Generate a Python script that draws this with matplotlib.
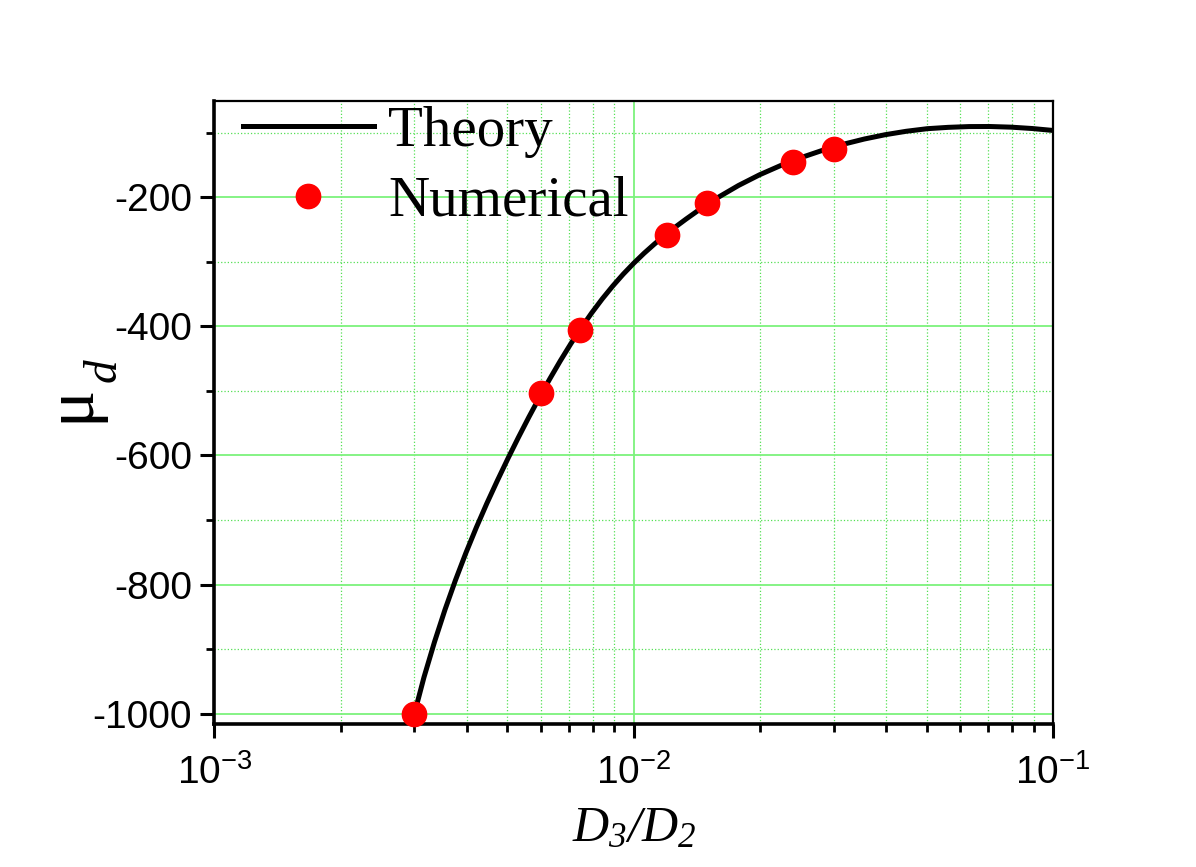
import matplotlib
matplotlib.use('Agg')
import matplotlib.pyplot as plt
from matplotlib.ticker import MultipleLocator, LogLocator, NullFormatter

# theory curve
theory_x = [3.0e-3, 3.162e-3, 3.350e-3, 3.548e-3, 3.758e-3, 3.981e-3, 4.217e-3,
            4.467e-3, 4.732e-3, 5.012e-3, 5.309e-3, 5.623e-3, 5.957e-3, 6.310e-3,
            6.683e-3, 7.079e-3, 7.499e-3, 7.943e-3, 8.414e-3, 8.913e-3, 9.441e-3,
            1.0e-2, 1.059e-2, 1.122e-2, 1.189e-2, 1.259e-2, 1.334e-2, 1.413e-2,
            1.496e-2, 1.585e-2, 1.778e-2, 1.995e-2, 2.239e-2, 2.512e-2, 2.818e-2,
            3.162e-2, 3.548e-2, 3.981e-2, 4.467e-2, 5.012e-2, 5.623e-2, 6.310e-2,
            7.079e-2, 7.943e-2, 8.913e-2, 1.0e-1]
theory_y = [-1000, -943.6, -888.9, -839.1, -793.4, -750.9, -711.3,
            -674.1, -638.9, -605.0, -572.3, -540.8, -510.5, -481.4,
            -453.6, -427.2, -402.4, -379.2, -357.6, -337.7, -319.3,
            -302.4, -286.8, -272.3, -258.7, -245.9, -233.8, -222.3,
            -211.3, -200.8, -181.9, -165.4, -151.1, -138.5, -127.5,
            -118.0, -109.9, -103.2, -97.9, -93.9, -91.8, -90.6,
            -90.5, -91.5, -93.6, -96.6]

# numerical points
num_x = [3.0e-3, 6.0e-3, 7.45e-3, 1.2e-2, 1.5e-2, 2.4e-2, 3.0e-2]
num_y = [-1000, -504, -405, -258, -209, -145, -125]

xticks = [1e-3, 1e-2, 1e-1]
xtick_labels = [r'$\mathsf{10^{-3}}$', r'$\mathsf{10^{-2}}$', r'$\mathsf{10^{-1}}$']
yticks = [-1000, -800, -600, -400, -200]

plt.rcParams['font.family'] = ['Liberation Sans', 'DejaVu Sans']
plt.rcParams['axes.unicode_minus'] = False
plt.rcParams['mathtext.fontset'] = 'custom'
plt.rcParams['mathtext.rm'] = 'Liberation Serif'
plt.rcParams['mathtext.it'] = 'Liberation Serif:italic'
plt.rcParams['mathtext.cal'] = 'Liberation Serif:italic'
plt.rcParams['mathtext.sf'] = 'Liberation Sans'

fig = plt.figure(figsize=(11.96, 8.67), dpi=100)
ax = fig.add_axes([0.1792, 0.1649, 0.7012, 0.7186])

ax.plot(theory_x, theory_y, color='black', lw=3.6, label='Theory', zorder=3,
        solid_joinstyle='round')
ax.plot(num_x, num_y, 'o', color='#ff0000', ms=17.5, label='Numerical', zorder=4,
        clip_on=False)

ax.set_xscale('log')
ax.set_xlim(1e-3, 1e-1)
ax.set_ylim(-1016, -51)

ax.set_xticks(xticks, labels=xtick_labels)
ax.xaxis.set_minor_locator(LogLocator(base=10, subs=range(2, 10)))
ax.xaxis.set_minor_formatter(NullFormatter())
ax.set_yticks(yticks)
ax.yaxis.set_minor_locator(MultipleLocator(100))

ax.grid(which='major', color='#7cf27c', lw=1.3, ls='-')
ax.grid(which='minor', color='#55e055', lw=0.9, ls=':')
ax.set_axisbelow(True)

ax.tick_params(which='major', direction='out', length=10, width=2.2,
               labelsize=28, pad=6, top=False, right=False)
ax.tick_params(axis='x', which='major', pad=12)
ax.tick_params(which='minor', direction='out', length=5.5, width=2.0,
               top=False, right=False)
for side in ['left', 'bottom']:
    ax.spines[side].set_linewidth(2.6)
for side in ['top', 'right']:
    ax.spines[side].set_linewidth(1.6)

ax.set_xlabel(r'$D_{\mathcal{3}}\mathcal{/}D_{\mathcal{2}}$', fontsize=36, labelpad=9)

# y label: mu with a deep subscript d, as in the original
fig.text(88 / 1196, 1 - 403 / 867, '\u03bc', rotation=90, rotation_mode='anchor',
         ha='center', va='baseline', fontsize=50, family='Liberation Serif')
fig.text(116 / 1196, 1 - 370 / 867, 'd', rotation=90, rotation_mode='anchor',
         ha='center', va='baseline', fontsize=34, family='Liberation Serif',
         style='italic')

ax.legend(loc='upper left', bbox_to_anchor=(0.034, 0.992), frameon=False,
          prop={'family': 'Liberation Serif', 'size': 41},
          handlelength=2.3, handletextpad=0.25, labelspacing=0.31,
          borderpad=0, borderaxespad=0, numpoints=1)

fig.savefig('out.png', dpi=100)
